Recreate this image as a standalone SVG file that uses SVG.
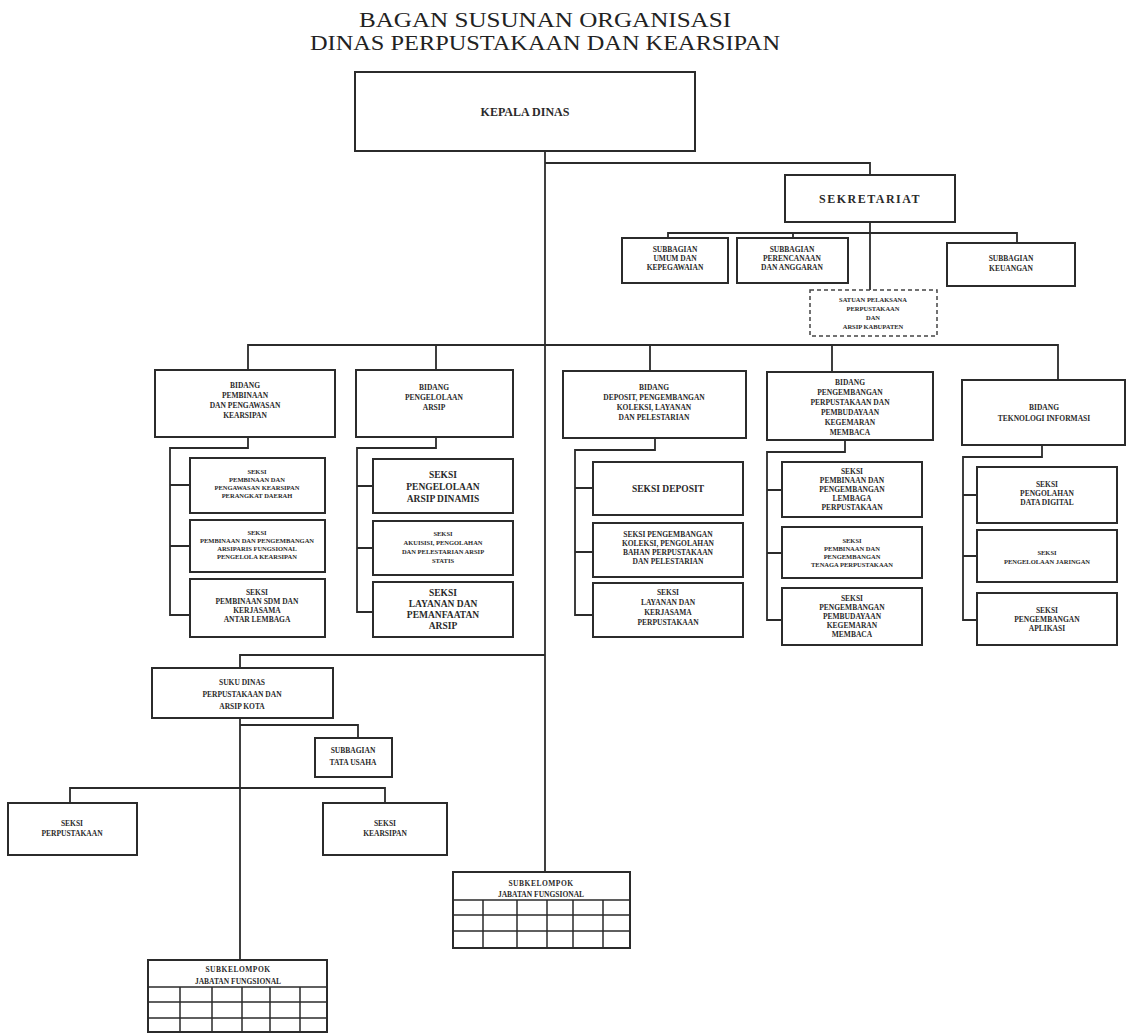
<svg xmlns="http://www.w3.org/2000/svg" width="1126" height="1033" viewBox="0 0 1126 1033">
<style>
.bx{fill:#fff;stroke:#2b2b2b;stroke-width:2}
.ds{fill:#fff;stroke:#444;stroke-width:1.5;stroke-dasharray:4 3}
.ln{fill:none;stroke:#2b2b2b;stroke-width:1.8}
.gr{fill:none;stroke:#2b2b2b;stroke-width:1.5}
text{font-family:"Liberation Serif","DejaVu Serif",serif;fill:#2a2a2a;text-anchor:middle;font-weight:bold}
.t{font-size:20px;font-weight:normal;fill:#222}
.s{font-size:7.5px}
.xs{font-size:6.5px}
.m{font-size:9.5px}
.l{font-size:12px}
</style>
<rect width="1126" height="1033" fill="#fff"/>
<g id="title">
<text class="t" x="545" y="27" textLength="372" lengthAdjust="spacingAndGlyphs">BAGAN SUSUNAN ORGANISASI</text>
<text class="t" x="545" y="50" textLength="470" lengthAdjust="spacingAndGlyphs">DINAS PERPUSTAKAAN DAN KEARSIPAN</text>
</g>
<g id="connectors">
<path class="ln" d="M545 151V872"/>
<path class="ln" d="M545 163H870V175"/>
<path class="ln" d="M870 222V290"/>
<path class="ln" d="M668 238V233H1017V243M793 233V238"/>
<path class="ln" d="M248 370V345H1058V380M436 345V370M650 345V371M832 345V372"/>
<path class="ln" d="M248 437V448H170V615H190M170 485H190M170 546H190"/>
<path class="ln" d="M436 437V448H357V612H373M357 486H373M357 548H373"/>
<path class="ln" d="M655 438V450H575V615H593M575 488H593M575 552H593"/>
<path class="ln" d="M845 440V452H767V620H782M767 490H782M767 553H782"/>
<path class="ln" d="M1042 445V457H963V620H977M963 495H977M963 556H977"/>
<path class="ln" d="M545 655H240V668"/>
<path class="ln" d="M240 718V960"/>
<path class="ln" d="M240 725H358V738"/>
<path class="ln" d="M70 803V788H385V803"/>
</g>
<g id="kepala"><rect class="bx" x="355" y="72" width="340" height="79"/><text class="l" x="525" y="116">KEPALA DINAS</text></g>
<g id="sekretariat"><rect class="bx" x="785" y="175" width="170" height="47"/><text class="l" x="870" y="203" font-weight="normal" letter-spacing="1.5">SEKRETARIAT</text></g>
<g id="subbag-umum"><rect class="bx" x="622" y="238" width="106" height="45"/><text class="s" x="675"><tspan x="675" y="252">SUBBAGIAN</tspan><tspan x="675" y="261">UMUM DAN</tspan><tspan x="675" y="270">KEPEGAWAIAN</tspan></text></g>
<g id="subbag-perencanaan"><rect class="bx" x="737" y="238" width="111" height="45"/><text class="s" x="792"><tspan x="792" y="252">SUBBAGIAN</tspan><tspan x="792" y="261">PERENCANAAN</tspan><tspan x="792" y="270">DAN ANGGARAN</tspan></text></g>
<g id="subbag-keuangan"><rect class="bx" x="947" y="243" width="128" height="43"/><text class="s" x="1011"><tspan x="1011" y="261">SUBBAGIAN</tspan><tspan x="1011" y="271">KEUANGAN</tspan></text></g>
<g id="satuan-pelaksana"><rect class="ds" x="810" y="290" width="127" height="46"/><text class="xs" x="873"><tspan x="873" y="302">SATUAN PELAKSANA</tspan><tspan x="873" y="311">PERPUSTAKAAN</tspan><tspan x="873" y="320">DAN</tspan><tspan x="873" y="329">ARSIP KABUPATEN</tspan></text></g>
<g id="bidang-pembinaan"><rect class="bx" x="155" y="370" width="180" height="67"/><text class="s" x="245"><tspan x="245" y="388">BIDANG</tspan><tspan x="245" y="398">PEMBINAAN</tspan><tspan x="245" y="408">DAN PENGAWASAN</tspan><tspan x="245" y="418">KEARSIPAN</tspan></text></g>
<g id="bidang-pengelolaan"><rect class="bx" x="356" y="370" width="157" height="67"/><text class="s" x="434"><tspan x="434" y="390">BIDANG</tspan><tspan x="434" y="400">PENGELOLAAN</tspan><tspan x="434" y="410">ARSIP</tspan></text></g>
<g id="bidang-deposit"><rect class="bx" x="563" y="371" width="183" height="67"/><text class="s" x="654"><tspan x="654" y="390">BIDANG</tspan><tspan x="654" y="400">DEPOSIT, PENGEMBANGAN</tspan><tspan x="654" y="410">KOLEKSI, LAYANAN</tspan><tspan x="654" y="420">DAN PELESTARIAN</tspan></text></g>
<g id="bidang-pengembangan"><rect class="bx" x="767" y="372" width="166" height="68"/><text class="s" x="850"><tspan x="850" y="385">BIDANG</tspan><tspan x="850" y="395">PENGEMBANGAN</tspan><tspan x="850" y="405">PERPUSTAKAAN DAN</tspan><tspan x="850" y="415">PEMBUDAYAAN</tspan><tspan x="850" y="425">KEGEMARAN</tspan><tspan x="850" y="435">MEMBACA</tspan></text></g>
<g id="bidang-ti"><rect class="bx" x="962" y="380" width="163" height="65"/><text class="s" x="1044"><tspan x="1044" y="410">BIDANG</tspan><tspan x="1044" y="421">TEKNOLOGI INFORMASI</tspan></text></g>
<g id="seksi-1a"><rect class="bx" x="190" y="458" width="135" height="55"/><text class="xs" x="257"><tspan x="257" y="474">SEKSI</tspan><tspan x="257" y="482">PEMBINAAN DAN</tspan><tspan x="257" y="490">PENGAWASAN KEARSIPAN</tspan><tspan x="257" y="498">PERANGKAT DAERAH</tspan></text></g>
<g id="seksi-1b"><rect class="bx" x="190" y="520" width="135" height="52"/><text class="xs" x="257"><tspan x="257" y="535">SEKSI</tspan><tspan x="257" y="543">PEMBINAAN DAN PENGEMBANGAN</tspan><tspan x="257" y="551">ARSIPARIS FUNGSIONAL</tspan><tspan x="257" y="559">PENGELOLA KEARSIPAN</tspan></text></g>
<g id="seksi-1c"><rect class="bx" x="190" y="579" width="135" height="58"/><text class="s" x="257"><tspan x="257" y="595">SEKSI</tspan><tspan x="257" y="604">PEMBINAAN SDM DAN</tspan><tspan x="257" y="613">KERJASAMA</tspan><tspan x="257" y="622">ANTAR LEMBAGA</tspan></text></g>
<g id="seksi-2a"><rect class="bx" x="373" y="459" width="140" height="54"/><text class="m" x="443"><tspan x="443" y="478">SEKSI</tspan><tspan x="443" y="490">PENGELOLAAN</tspan><tspan x="443" y="502">ARSIP DINAMIS</tspan></text></g>
<g id="seksi-2b"><rect class="bx" x="373" y="521" width="140" height="54"/><text class="xs" x="443"><tspan x="443" y="536">SEKSI</tspan><tspan x="443" y="545">AKUISISI, PENGOLAHAN</tspan><tspan x="443" y="554">DAN PELESTARIAN ARSIP</tspan><tspan x="443" y="563">STATIS</tspan></text></g>
<g id="seksi-2c"><rect class="bx" x="373" y="582" width="140" height="55"/><text class="m" font-size="9" x="443"><tspan x="443" y="596">SEKSI</tspan><tspan x="443" y="607">LAYANAN DAN</tspan><tspan x="443" y="618">PEMANFAATAN</tspan><tspan x="443" y="629">ARSIP</tspan></text></g>
<g id="seksi-3a"><rect class="bx" x="593" y="462" width="150" height="53"/><text class="m" x="668" y="492">SEKSI DEPOSIT</text></g>
<g id="seksi-3b"><rect class="bx" x="593" y="523" width="150" height="54"/><text class="s" font-size="8" x="668"><tspan x="668" y="537">SEKSI PENGEMBANGAN</tspan><tspan x="668" y="546">KOLEKSI, PENGOLAHAN</tspan><tspan x="668" y="555">BAHAN PERPUSTAKAAN</tspan><tspan x="668" y="564">DAN PELESTARIAN</tspan></text></g>
<g id="seksi-3c"><rect class="bx" x="593" y="583" width="150" height="54"/><text class="s" font-size="8" x="668"><tspan x="668" y="595">SEKSI</tspan><tspan x="668" y="605">LAYANAN DAN</tspan><tspan x="668" y="615">KERJASAMA</tspan><tspan x="668" y="625">PERPUSTAKAAN</tspan></text></g>
<g id="seksi-4a"><rect class="bx" x="782" y="462" width="140" height="55"/><text class="s" x="852"><tspan x="852" y="474">SEKSI</tspan><tspan x="852" y="483">PEMBINAAN DAN</tspan><tspan x="852" y="492">PENGEMBANGAN</tspan><tspan x="852" y="501">LEMBAGA</tspan><tspan x="852" y="510">PERPUSTAKAAN</tspan></text></g>
<g id="seksi-4b"><rect class="bx" x="782" y="527" width="140" height="51"/><text class="xs" x="852"><tspan x="852" y="543">SEKSI</tspan><tspan x="852" y="551">PEMBINAAN DAN</tspan><tspan x="852" y="559">PENGEMBANGAN</tspan><tspan x="852" y="567">TENAGA PERPUSTAKAAN</tspan></text></g>
<g id="seksi-4c"><rect class="bx" x="782" y="588" width="140" height="57"/><text class="s" x="852"><tspan x="852" y="601">SEKSI</tspan><tspan x="852" y="610">PENGEMBANGAN</tspan><tspan x="852" y="619">PEMBUDAYAAN</tspan><tspan x="852" y="628">KEGEMARAN</tspan><tspan x="852" y="637">MEMBACA</tspan></text></g>
<g id="seksi-5a"><rect class="bx" x="977" y="467" width="140" height="56"/><text class="s" x="1047"><tspan x="1047" y="487">SEKSI</tspan><tspan x="1047" y="496">PENGOLAHAN</tspan><tspan x="1047" y="505">DATA DIGITAL</tspan></text></g>
<g id="seksi-5b"><rect class="bx" x="977" y="530" width="140" height="52"/><text class="xs" x="1047"><tspan x="1047" y="555">SEKSI</tspan><tspan x="1047" y="564">PENGELOLAAN JARINGAN</tspan></text></g>
<g id="seksi-5c"><rect class="bx" x="977" y="593" width="140" height="52"/><text class="s" x="1047"><tspan x="1047" y="613">SEKSI</tspan><tspan x="1047" y="622">PENGEMBANGAN</tspan><tspan x="1047" y="631">APLIKASI</tspan></text></g>
<g id="suku-dinas"><rect class="bx" x="152" y="668" width="181" height="50"/><text class="s" x="242"><tspan x="242" y="685">SUKU DINAS</tspan><tspan x="242" y="697">PERPUSTAKAAN DAN</tspan><tspan x="242" y="709">ARSIP KOTA</tspan></text></g>
<g id="subbag-tu"><rect class="bx" x="315" y="738" width="77" height="39"/><text class="s" x="353"><tspan x="353" y="753">SUBBAGIAN</tspan><tspan x="353" y="765">TATA USAHA</tspan></text></g>
<g id="seksi-perpustakaan"><rect class="bx" x="8" y="803" width="129" height="52"/><text class="s" x="72"><tspan x="72" y="826">SEKSI</tspan><tspan x="72" y="836">PERPUSTAKAAN</tspan></text></g>
<g id="seksi-kearsipan"><rect class="bx" x="323" y="803" width="124" height="52"/><text class="s" x="385"><tspan x="385" y="826">SEKSI</tspan><tspan x="385" y="836">KEARSIPAN</tspan></text></g>
<g id="subkelompok-1">
<rect class="bx" x="453" y="872" width="177" height="76"/>
<text class="s" font-size="8" x="541"><tspan x="541" y="886" letter-spacing="0.5">SUBKELOMPOK</tspan><tspan x="541" y="897">JABATAN FUNGSIONAL</tspan></text>
<path class="gr" d="M453 900H630M453 915H630M453 931H630M483 900V948M517 900V948M547 900V948M573 900V948M603 900V948"/>
</g>
<g id="subkelompok-2">
<rect class="bx" x="148" y="960" width="179" height="72"/>
<text class="s" font-size="8" x="238"><tspan x="238" y="972" letter-spacing="0.5">SUBKELOMPOK</tspan><tspan x="238" y="984">JABATAN FUNGSIONAL</tspan></text>
<path class="gr" d="M148 987H327M148 1002H327M148 1018H327M180 987V1033M212 987V1033M242 987V1033M270 987V1033M300 987V1033"/>
</g>
</svg>
